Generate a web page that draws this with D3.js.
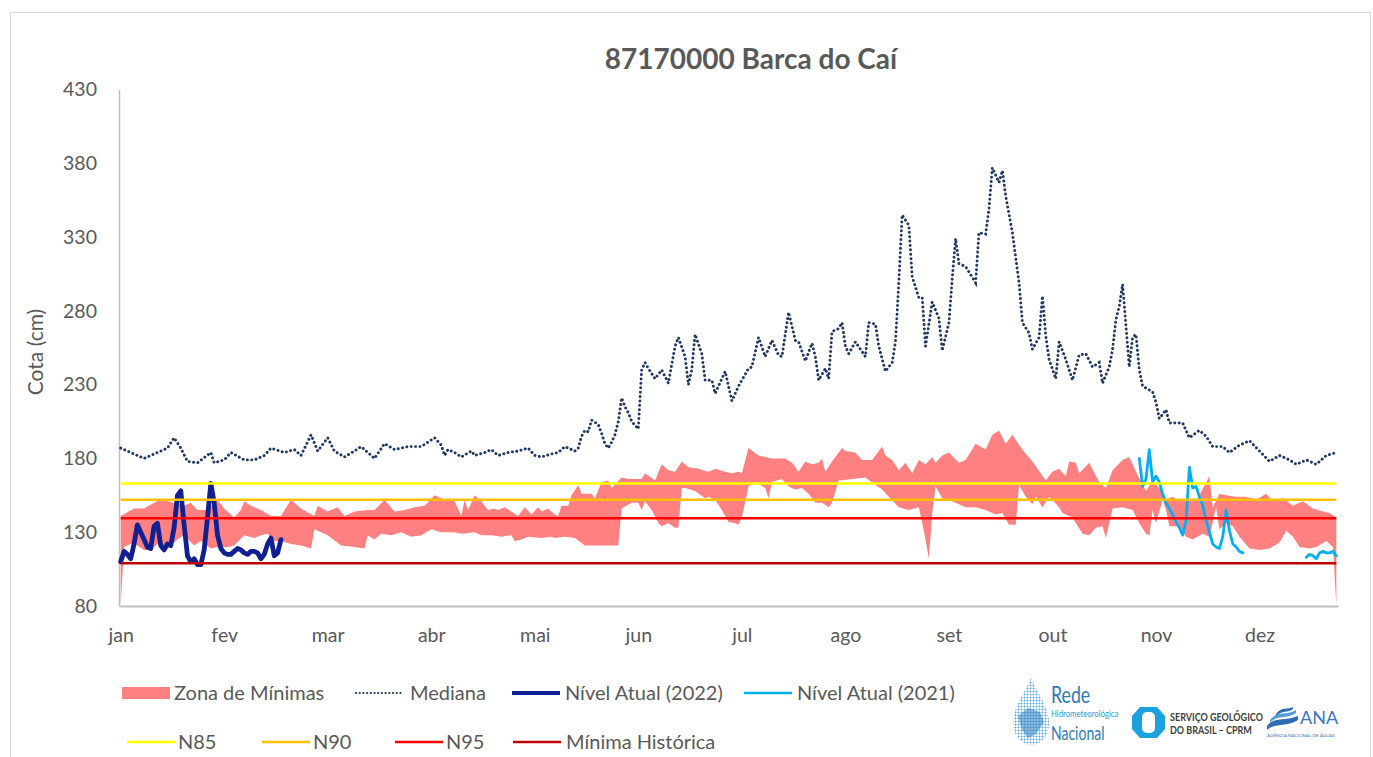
<!DOCTYPE html>
<html><head><meta charset="utf-8">
<script src="https://cdn.jsdelivr.net/npm/d3@7/dist/d3.min.js"></script>
<style>
body{margin:0;background:#fff;}
svg{display:block;font-family:Lato,"Open Sans",sans-serif;}
</style></head><body>
<svg id="chart" width="1373" height="757"></svg>
<script>
// ---------------- DATA ----------------
const chartTitle = "87170000 Barca do Caí";
const yAxisTitle = "Cota (cm)";
const monthLabels = ["jan","fev","mar","abr","mai","jun","jul","ago","set","out","nov","dez"];
const monthLabelDays = [0,31,62,93,124,155,186,217,248,279,310,341];
const yTicks = [80,130,180,230,280,330,380,430];

// Mediana: [day of year, cota]
const medianData = [[0,187],[3,184],[7,180],[10,183],[14,187],[16,194],[18,187],[20,178],[23,177],[27,184],[28,177],[31,179],[33,184],[37,179],[40,179],[43,182],[45,187],[49,184],[52,186],[54,182],[57,196],[59,185],[62,194],[64,185],[67,181],[70,185],[72,188],[76,180],[79,190],[82,186],[86,188],[90,188],[94,194],[96,189],[97,182],[98,186],[100,184],[102,181],[105,185],[106,182],[109,184],[111,186],[113,182],[116,184],[119,185],[122,187],[124,182],[126,181],[129,183],[131,184],[133,188],[135,186],[136,185],[137,187],[138,195],[139,199],[140,198],[141,206],[143,203],[144,197],[145,190],[146,187],[147,191],[148,196],[149,205],[150,221],[151,215],[152,211],[153,205],[155,200],[156,240],[157,245],[158,241],[160,234],[162,240],[164,231],[166,256],[167,262],[169,249],[170,230],[171,240],[172,264],[174,251],[175,233],[177,233],[178,224],[181,239],[183,219],[185,229],[188,241],[189,242],[191,262],[193,249],[195,260],[197,250],[198,249],[200,279],[202,260],[203,259],[205,246],[207,258],[208,249],[209,233],[211,241],[212,234],[213,266],[215,268],[216,272],[217,256],[218,251],[220,259],[223,249],[224,272],[226,271],[227,256],[229,239],[231,245],[232,259],[233,299],[234,345],[236,338],[237,303],[239,289],[240,289],[241,256],[243,286],[245,275],[246,253],[248,272],[249,302],[250,329],[251,312],[253,310],[256,299],[257,333],[259,332],[260,349],[261,377],[263,367],[264,375],[265,358],[267,333],[269,299],[270,272],[272,265],[273,254],[275,262],[276,290],[277,263],[278,247],[280,234],[281,259],[283,247],[285,233],[287,250],[289,251],[291,242],[293,245],[294,231],[296,242],[297,254],[298,274],[299,283],[300,298],[301,270],[302,242],[303,262],[304,264],[305,240],[306,229],[309,225],[310,218],[311,207],[313,213],[314,204],[318,204],[320,194],[323,199],[325,195],[327,188],[330,188],[332,184],[335,189],[338,192],[341,185],[344,178],[347,182],[350,179],[352,176],[355,179],[358,176],[361,182],[364,184]];

// Zona de Mínimas: upper and lower edges [day, cota]
const zoneUpper = [[0,141],[4,146],[7,146],[10,150],[12,152],[14,151],[16,150],[19,148],[21,150],[23,145],[26,145],[29,152],[31,146],[34,140],[36,145],[37,151],[39,148],[42,145],[45,141],[48,141],[51,152],[54,146],[58,141],[59,148],[62,144],[65,147],[67,141],[70,144],[74,145],[76,145],[79,152],[82,144],[85,145],[88,147],[91,148],[94,155],[97,152],[100,151],[102,141],[103,152],[104,145],[106,155],[108,151],[110,145],[112,146],[113,145],[115,147],[117,144],[119,141],[121,147],[123,142],[125,147],[126,144],[128,146],[130,142],[131,141],[132,148],[134,148],[135,155],[137,162],[138,156],[141,156],[142,153],[144,164],[146,165],[147,160],[150,167],[152,166],[156,166],[157,170],[160,165],[162,176],[164,172],[166,171],[168,178],[170,174],[173,173],[176,171],[178,173],[181,171],[183,170],[185,171],[186,170],[188,187],[191,182],[195,180],[199,180],[201,177],[203,171],[205,178],[207,176],[209,177],[210,180],[211,171],[213,178],[216,187],[217,185],[220,184],[222,179],[225,179],[228,188],[229,182],[231,179],[233,172],[235,177],[237,170],[239,179],[241,176],[243,181],[244,177],[246,182],[248,184],[251,177],[253,179],[256,190],[259,186],[261,196],[263,199],[265,190],[267,196],[270,186],[273,178],[277,165],[279,171],[281,173],[283,168],[284,178],[286,177],[287,170],[290,177],[293,164],[295,160],[297,172],[300,179],[302,181],[304,171],[307,158],[309,165],[311,160],[313,152],[315,154],[317,151],[320,152],[322,151],[326,168],[327,147],[329,156],[331,155],[334,154],[337,154],[340,152],[343,156],[345,151],[348,153],[351,148],[354,151],[357,146],[360,144],[362,143],[364,140]];
const zoneLower = [[0,80],[1,120],[3,122],[5,121],[7,118],[9,118],[11,122],[14,119],[17,125],[19,128],[22,121],[24,124],[27,119],[29,120],[32,120],[34,121],[37,128],[40,126],[42,128],[44,129],[46,124],[48,124],[51,122],[54,121],[57,119],[58,132],[62,128],[66,121],[70,120],[73,119],[74,128],[76,125],[78,129],[81,128],[84,130],[87,127],[90,128],[93,132],[96,130],[100,130],[102,129],[106,130],[108,128],[111,128],[114,127],[117,128],[118,124],[120,125],[122,127],[126,126],[129,127],[130,126],[133,127],[136,126],[139,121],[149,121],[150,146],[153,150],[155,150],[156,145],[157,151],[159,145],[161,136],[162,134],[164,136],[166,133],[167,133],[168,160],[169,160],[172,158],[175,153],[176,154],[178,152],[180,145],[182,137],[184,136],[185,135],[186,140],[188,161],[190,164],[193,160],[194,153],[195,164],[198,166],[200,161],[202,159],[204,160],[206,156],[208,150],[210,150],[212,147],[213,150],[215,165],[219,166],[223,167],[226,162],[228,159],[230,154],[233,147],[236,145],[239,147],[240,136],[241,125],[242,112],[243,143],[244,161],[246,153],[248,152],[251,149],[253,147],[256,147],[259,145],[262,142],[264,143],[266,135],[268,135],[269,162],[271,154],[273,149],[274,154],[276,147],[278,154],[281,147],[282,143],[285,140],[288,129],[290,128],[292,133],[294,134],[295,126],[297,146],[300,147],[303,145],[305,136],[307,129],[308,128],[309,145],[310,136],[312,152],[313,145],[314,134],[317,134],[319,127],[321,125],[324,129],[326,127],[328,147],[329,132],[331,136],[333,134],[335,127],[338,119],[341,118],[344,119],[347,123],[349,131],[351,127],[353,120],[356,119],[358,120],[361,124],[363,120],[364,80]];

// Nível Atual (2022): daily values from 1 jan
const level2022Start = 0;
const level2022 = [110,117,115,112,122,135,130,125,120,119,134,136,121,118,122,121,133,155,158,135,114,110,112,108,108,118,140,163,150,128,119,116,115,115,117,119,118,116,115,117,117,116,112,115,122,126,114,116,125];

// Nível Atual (2021): daily values from day 305 (null = no record)
const level2021Start = 305;
const level2021 = [180,161,166,186,164,168,164,156,150,146,142,137,133,128,138,174,160,161,154,148,138,130,122,120,119,127,145,131,122,120,117,116,
  null,null,null,null,null,null,null,null,null,null,null,null,null,null,null,109,null,null,113,115,114,112,116,117,116,116,117,114];

// Reference levels (cm)
const refNames = ["N85","N90","N95","Mínima Histórica"];
const refValues = [163,152,139.5,109];

const legendRow1 = ["Zona de Mínimas","Mediana","Nível Atual (2022)","Nível Atual (2021)"];
const legendRow2 = ["N85","N90","N95","Mínima Histórica"];

// ---------------- STYLES ----------------
const C = {
  text:"#595959", axis:"#BFBFBF", zone:"#FF8080", median:"#1F3864",
  l2022:"#102090", l2021:"#00B0F0",
  ref:{"N85":"#FFFF00","N90":"#FFC000","N95":"#FF0000","Mínima Histórica":"#C00000"}
};

const svg = d3.select("#chart");
const W = 1373, H = 757;
svg.append("rect").attr("x",0).attr("y",0).attr("width",W).attr("height",H).attr("fill","#fff");
svg.append("rect").attr("x",10.5).attr("y",12.5).attr("width",1360).attr("height",760)
  .attr("fill","none").attr("stroke","#D9D9D9").attr("stroke-width",1);

const x = d3.scaleLinear().domain([-0.5,364.5]).range([119,1338]);
const y = d3.scaleLinear().domain([80,430]).range([606,89.5]);

// title
svg.append("text").attr("x",751).attr("y",69).attr("text-anchor","middle")
  .attr("font-size",28).attr("font-weight","bold").attr("fill",C.text).text(chartTitle);

// y axis title
svg.append("text").attr("transform","translate(43,352) rotate(-90)").attr("text-anchor","middle")
  .attr("font-size",21).attr("fill",C.text).text(yAxisTitle);

// zone band
const lineGen = d3.line().x(d=>x(d[0])).y(d=>y(d[1]));
const zonePath = lineGen(zoneUpper) + "L" + lineGen(zoneLower.slice().reverse()).slice(1) + "Z";
svg.append("path").attr("d",zonePath).attr("fill",C.zone).attr("stroke","none");

// axes
const yAxis = d3.axisLeft(y).tickValues(yTicks).tickSize(0).tickPadding(22);
const gy = svg.append("g").attr("transform","translate(119,0)").call(yAxis);
gy.select(".domain").attr("stroke",C.axis).attr("stroke-width",1.5);
gy.selectAll("text").attr("font-size",19.5).attr("fill",C.text).attr("font-family","Lato");

const xAxis = d3.axisBottom(x).tickValues(monthLabelDays).tickFormat((d,i)=>monthLabels[i]).tickSize(0).tickPadding(22);
const gx = svg.append("g").attr("transform","translate(0,606)").call(xAxis);
gx.select(".domain").attr("stroke",C.axis).attr("stroke-width",2);
gx.selectAll("text").attr("font-size",19.5).attr("fill",C.text).attr("font-family","Lato");

// median
svg.append("path").attr("d",lineGen(medianData)).attr("fill","none")
  .attr("stroke",C.median).attr("stroke-width",2.9).attr("stroke-linecap","round")
  .attr("stroke-dasharray","0.1,4.3");

// levels
const dayLine = d3.line().defined(d=>d[1]!=null).x(d=>x(d[0])).y(d=>y(d[1]));
const s2022 = level2022.map((v,i)=>[level2022Start+i,v]);
const s2021 = level2021.map((v,i)=>[level2021Start+i,v]);
svg.append("path").attr("d",dayLine(s2022)).attr("fill","none").attr("stroke",C.l2022)
  .attr("stroke-width",4.8).attr("stroke-linejoin","round").attr("stroke-linecap","round");
svg.append("path").attr("d",dayLine(s2021)).attr("fill","none").attr("stroke",C.l2021)
  .attr("stroke-width",2.8).attr("stroke-linejoin","round").attr("stroke-linecap","round");

// reference lines
refNames.forEach((n,i)=>{
  svg.append("path").attr("d",lineGen([[0,refValues[i]],[364,refValues[i]]]))
    .attr("stroke",C.ref[n]).attr("stroke-width",2.6).attr("fill","none");
});

// legend
const lg = svg.append("g").attr("font-size",20).attr("fill",C.text);
function legText(tx,ty,t){ lg.append("text").attr("x",tx).attr("y",ty+7).attr("fill",C.text).text(t); }
function legLine(x1,x2,ty,col,w,dash){
  const l = lg.append("line").attr("x1",x1).attr("x2",x2).attr("y1",ty).attr("y2",ty)
    .attr("stroke",col).attr("stroke-width",w);
  if(dash) l.attr("stroke-dasharray",dash).attr("stroke-linecap","round");
}
const r1 = 693, r2 = 742;
lg.append("rect").attr("x",122).attr("y",r1-6).attr("width",48).attr("height",12).attr("fill",C.zone);
legText(174,r1,legendRow1[0]);
legLine(356,403,r1,C.median,2.2,"0.1,3.6");
legText(410,r1,legendRow1[1]);
legLine(512,560,r1,C.l2022,4);
legText(565,r1,legendRow1[2]);
legLine(744,792,r1,C.l2021,2.7);
legText(797,r1,legendRow1[3]);
const r2x = [[127,175,178],[262,310,313],[395,443,446],[513,561,566]];
legendRow2.forEach((n,i)=>{
  legLine(r2x[i][0],r2x[i][1],r2,C.ref[n],2.6);
  legText(r2x[i][2],r2,n);
});

// logos
const logo = svg.append("g");
const defs = svg.append("defs");
const pat = defs.append("pattern").attr("id","dots").attr("width",3).attr("height",3).attr("patternUnits","userSpaceOnUse");
pat.append("circle").attr("cx",1.5).attr("cy",1.5).attr("r",1).attr("fill","#4FA3D9");
logo.append("path").attr("d","M1031,678 C1024,694 1013,708 1013,722 C1013,736 1022,745 1031,745 C1041,745 1049,736 1049,722 C1049,708 1038,694 1031,678 Z")
  .attr("fill","url(#dots)");
logo.append("path").attr("d","M1018,716 L1028,708 L1040,712 L1044,722 L1036,734 L1028,738 L1022,730 Z")
  .attr("fill","#2F7DBF").attr("opacity",0.55);
logo.append("text").attr("transform","translate(1051,703) scale(0.74,1)").attr("font-size",24)
  .attr("fill","#2C7BB6").text("Rede");
logo.append("text").attr("transform","translate(1051,717) scale(0.86,1)").attr("font-size",9)
  .attr("fill","#2C9AD6").text("Hidrometeorológica");
logo.append("text").attr("transform","translate(1051,740) scale(0.7,1)").attr("font-size",20)
  .attr("fill","#2C7BB6").text("Nacional");

logo.append("path").attr("d","M1140,707 L1157,707 L1165,716 L1165,729 L1157,738 L1140,738 L1132,729 L1132,716 Z").attr("fill","#1BA1DD");
logo.append("rect").attr("x",1142).attr("y",712).attr("width",13).attr("height",21).attr("rx",5).attr("fill","#fff");
logo.append("text").attr("transform","translate(1170,720.5) scale(0.86,1)").attr("font-size",10.5)
  .attr("font-weight","bold").attr("fill","#404040").text("SERVIÇO GEOLÓGICO");
logo.append("text").attr("transform","translate(1170,734) scale(0.86,1)").attr("font-size",10.5)
  .attr("font-weight","bold").attr("fill","#404040").text("DO BRASIL – CPRM");

logo.append("path").attr("d","M1267,726 C1275,716 1283,722 1298,716 L1298,720 C1285,728 1276,722 1267,730 Z").attr("fill","#2E6DB4");
logo.append("path").attr("d","M1270,720 C1278,710 1286,716 1296,710 L1296,713 C1286,720 1278,714 1270,723 Z").attr("fill","#5AA0D8");
logo.append("path").attr("d","M1276,714 C1282,706 1288,710 1293,707 L1293,709 C1288,713 1282,710 1276,716 Z").attr("fill","#2E6DB4");
logo.append("text").attr("x",1300).attr("y",724).attr("font-size",18).attr("fill","#3A78C0").text("ANA");
logo.append("text").attr("x",1267).attr("y",737).attr("font-size",4.6).attr("fill","#3A78C0").text("AGÊNCIA NACIONAL DE ÁGUAS");
</script>
</body></html>
